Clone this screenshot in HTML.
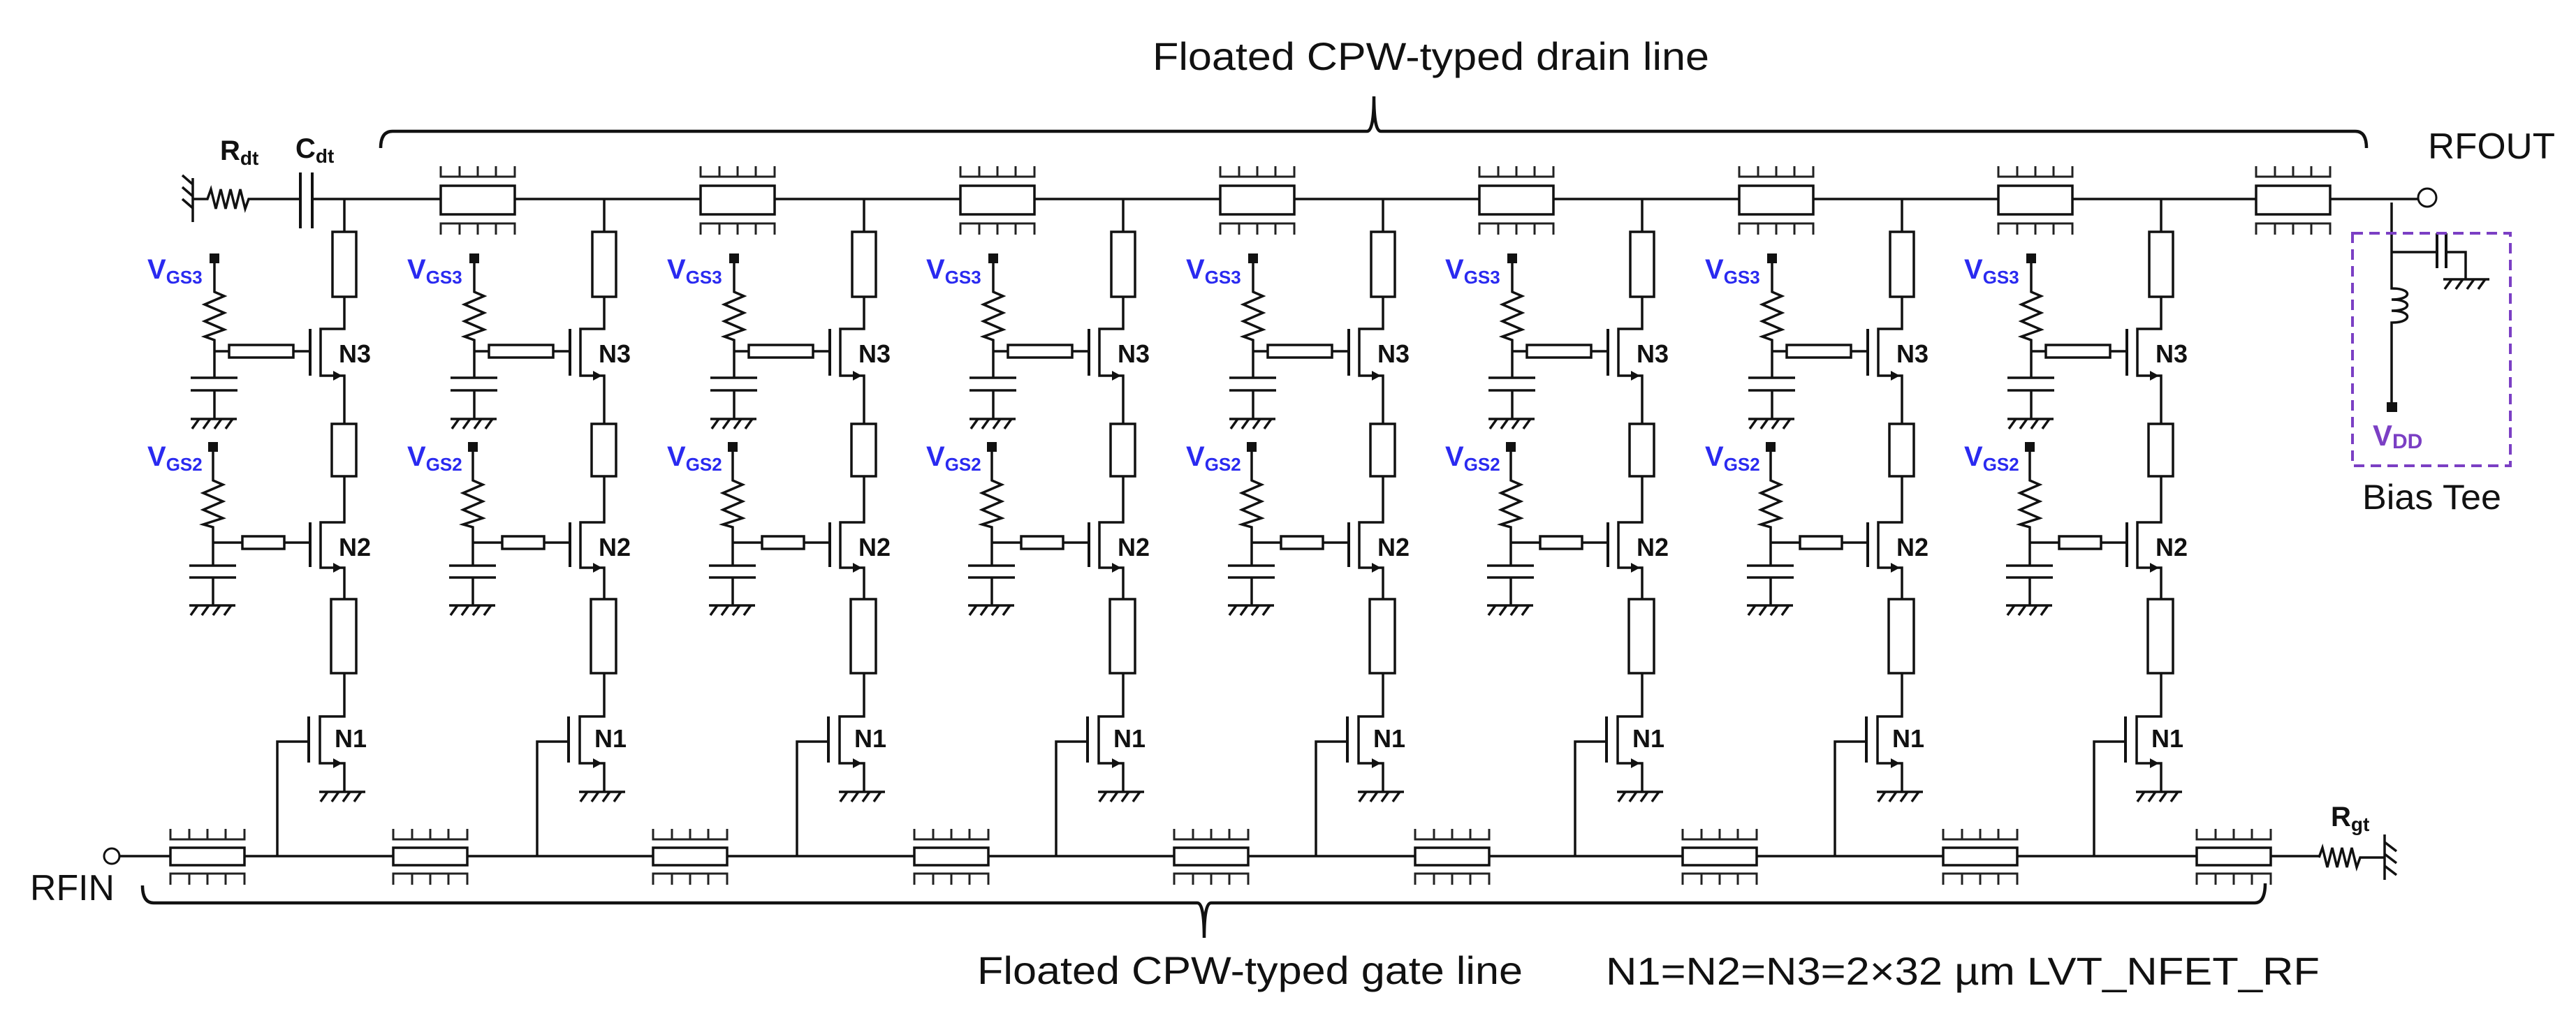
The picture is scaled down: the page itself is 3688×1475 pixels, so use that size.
<!DOCTYPE html>
<html><head><meta charset="utf-8"><style>
html,body{margin:0;padding:0;background:#fff;}
svg{display:block;}
text{font-family:"Liberation Sans",Arial,sans-serif;}
.b{font-weight:bold;}
</style></head><body>
<svg width="3688" height="1475" viewBox="0 0 3688 1475" xmlns="http://www.w3.org/2000/svg">
<defs>
<g id="gnd">
  <line x1="0" y1="0" x2="66" y2="0"/>
  <path d="M12,0 l-10,14 M28,0 l-10,14 M44,0 l-10,14 M60,0 l-10,14"/>
</g>
<g id="stage" fill="none" stroke="#111" stroke-width="3.5">
  <!-- drain to N3 -->
  <line x1="0" y1="285" x2="0" y2="332"/>
  <rect x="-17" y="332" width="34" height="93" fill="#fff"/>
  <polyline points="0,425 0,471 -34,471 -34,538 0,538 0,607"/>
  <line x1="-49" y1="471" x2="-49" y2="538" stroke-width="4"/>
  <polygon points="-3,538 -16,531 -16,545" fill="#111" stroke="none"/>
  <line x1="-49" y1="503" x2="-72" y2="503"/>
  <rect x="-165" y="494" width="92" height="18" fill="#fff"/>
  <line x1="-165" y1="503" x2="-187" y2="503"/>
  <!-- VGS3 bias -->
  <rect x="-193" y="363" width="14" height="14" fill="#111" stroke="none"/>
  <path d="M-186,377 L-186,418 l14,6 l-28,12 l28,12 l-28,12 l28,12 l-28,10 l14,5 L-186,541"/>
  <line x1="-220" y1="541" x2="-153" y2="541"/>
  <line x1="-220" y1="559" x2="-153" y2="559"/>
  <line x1="-186" y1="559" x2="-186" y2="600"/>
  <use href="#gnd" x="-220" y="600"/>
  <!-- N2 -->
  <rect x="-18" y="607" width="35" height="75" fill="#fff"/>
  <polyline points="0,682 0,748 -34,748 -34,813 0,813 0,858"/>
  <line x1="-49" y1="748" x2="-49" y2="812" stroke-width="4"/>
  <polygon points="-3,813 -16,806 -16,820" fill="#111" stroke="none"/>
  <line x1="-49" y1="777" x2="-86" y2="777"/>
  <rect x="-146" y="768" width="60" height="18" fill="#fff"/>
  <line x1="-146" y1="777" x2="-188" y2="777"/>
  <!-- VGS2 bias -->
  <rect x="-195" y="633" width="14" height="14" fill="#111" stroke="none"/>
  <path d="M-188,647 L-188,688 l14,6 l-28,12 l28,12 l-28,12 l28,12 l-28,9 l14,4 L-188,810"/>
  <line x1="-222" y1="810" x2="-155" y2="810"/>
  <line x1="-222" y1="827" x2="-155" y2="827"/>
  <line x1="-188" y1="827" x2="-188" y2="867"/>
  <use href="#gnd" x="-222" y="867"/>
  <!-- N1 -->
  <rect x="-19" y="858" width="36" height="106" fill="#fff"/>
  <polyline points="0,964 0,1026 -35,1026 -35,1093 0,1093 0,1134"/>
  <line x1="-51" y1="1026" x2="-51" y2="1092" stroke-width="4"/>
  <polygon points="-3,1093 -16,1086 -16,1100" fill="#111" stroke="none"/>
  <polyline points="-51,1062 -96,1062 -96,1226"/>
  <use href="#gnd" x="-36" y="1134"/>
</g>
<g id="cpwd" fill="none" stroke="#222" stroke-width="3">
  <path d="M-53,238 L-53,253 L53,253 L53,238 M-26,253 L-26,238 M0,253 L0,238 M26,253 L26,238"/>
  <path d="M-53,336 L-53,320 L53,320 L53,336 M-26,320 L-26,336 M0,320 L0,336 M26,320 L26,336"/>
  <rect x="-53" y="266" width="106" height="41" fill="#fff" stroke="#111" stroke-width="3.5"/>
</g>
<g id="cpwg" fill="none" stroke="#222" stroke-width="3">
  <path d="M-53,1187 L-53,1202 L53,1202 L53,1187 M-26,1202 L-26,1187 M0,1202 L0,1187 M26,1202 L26,1187"/>
  <path d="M-53,1267 L-53,1251 L53,1251 L53,1267 M-26,1251 L-26,1267 M0,1251 L0,1267 M26,1251 L26,1267"/>
  <rect x="-53" y="1214" width="106" height="25" fill="#fff" stroke="#111" stroke-width="3.5"/>
</g>
</defs>

<g stroke="#111" stroke-width="3.5" fill="none">
  <!-- drain line -->
  <line x1="447" y1="285" x2="3462" y2="285"/>
  <!-- gate line -->
  <line x1="171" y1="1226" x2="3320" y2="1226"/>
  <!-- Rdt / Cdt -->
  <line x1="276" y1="255" x2="276" y2="318"/>
  <path d="M276,264 l-15,-13 M276,281 l-15,-13 M276,298 l-15,-13"/>
  <path d="M276,285 L297,285 l5,-14 l7,28 l7,-28 l7,28 l7,-28 l7,28 l7,-28 l7,28 l5,-14 L430,285"/>
  <line x1="430" y1="247" x2="430" y2="327" stroke-width="4"/>
  <line x1="447" y1="247" x2="447" y2="327" stroke-width="4"/>
  <!-- Rgt -->
  <path d="M3320,1228 l5,-14 l7,28 l7,-28 l7,28 l7,-28 l7,28 l7,-28 l7,28 l5,-14 L3414,1228"/>
  <line x1="3414" y1="1195" x2="3414" y2="1260"/>
  <path d="M3414,1206 l17,13 M3414,1223 l17,13 M3414,1240 l17,13"/>
  <!-- RFIN / RFOUT circles -->
  <circle cx="160" cy="1226" r="11" fill="#fff" stroke-width="3"/>
  <circle cx="3475" cy="283" r="13" fill="#fff" stroke-width="3"/>
  <!-- bias tee -->
  <path d="M3424,290 L3424,413 c30,0 30,16 0,16 c30,0 30,16 0,16 c30,0 30,17 0,17 L3424,578"/>
  <line x1="3424" y1="361" x2="3489" y2="361"/>
  <line x1="3489" y1="334" x2="3489" y2="384" stroke-width="4"/>
  <line x1="3502" y1="334" x2="3502" y2="384" stroke-width="4"/>
  <polyline points="3502,361 3530,361 3530,400"/>
  <use href="#gnd" x="3498" y="400"/>
  <!-- braces -->
  <path d="M545,212 Q545,188 562,188 L1957,188 Q1967,188 1967,138 Q1967,188 1977,188 L3372,188 Q3388,188 3388,212" stroke-width="4.5"/>
  <path d="M204,1268 Q204,1293 220,1293 L1714,1293 Q1724,1293 1724,1343 Q1724,1293 1734,1293 L3228,1293 Q3243,1293 3243,1265" stroke-width="4.5"/>
</g>
<rect x="3417" y="576" width="15" height="14" fill="#111"/>
<rect x="3368" y="334" width="226" height="333" fill="none" stroke="#7b3fc4" stroke-width="4" stroke-dasharray="15 9"/>

<!-- stages -->
<use href="#stage" x="493" y="0"/>
<use href="#stage" x="865" y="0"/>
<use href="#stage" x="1237" y="0"/>
<use href="#stage" x="1608" y="0"/>
<use href="#stage" x="1980" y="0"/>
<use href="#stage" x="2351" y="0"/>
<use href="#stage" x="2723" y="0"/>
<use href="#stage" x="3094" y="0"/>

<!-- drain CPW -->
<use href="#cpwd" x="684" y="0"/>
<use href="#cpwd" x="1056" y="0"/>
<use href="#cpwd" x="1428" y="0"/>
<use href="#cpwd" x="1800" y="0"/>
<use href="#cpwd" x="2171" y="0"/>
<use href="#cpwd" x="2543" y="0"/>
<use href="#cpwd" x="2914" y="0"/>
<use href="#cpwd" x="3283" y="0"/>
<!-- gate CPW -->
<use href="#cpwg" x="297" y="0"/>
<use href="#cpwg" x="616" y="0"/>
<use href="#cpwg" x="988" y="0"/>
<use href="#cpwg" x="1362" y="0"/>
<use href="#cpwg" x="1734" y="0"/>
<use href="#cpwg" x="2079" y="0"/>
<use href="#cpwg" x="2462" y="0"/>
<use href="#cpwg" x="2835" y="0"/>
<use href="#cpwg" x="3198" y="0"/>

<!-- big texts -->
<text x="1650" y="100" font-size="56" textLength="797" lengthAdjust="spacingAndGlyphs" fill="#111">Floated CPW-typed drain line</text>
<text x="1399" y="1409" font-size="56" textLength="781" lengthAdjust="spacingAndGlyphs" fill="#111">Floated CPW-typed gate line</text>
<text x="2299" y="1410" font-size="56" textLength="1022" lengthAdjust="spacingAndGlyphs" fill="#111">N1=N2=N3=2×32 µm LVT_NFET_RF</text>
<text x="43" y="1289" font-size="52" textLength="121" lengthAdjust="spacingAndGlyphs" fill="#111">RFIN</text>
<text x="3476" y="227" font-size="52" textLength="182" lengthAdjust="spacingAndGlyphs" fill="#111">RFOUT</text>
<text x="3382" y="729" font-size="50" textLength="199" lengthAdjust="spacingAndGlyphs" fill="#111">Bias Tee</text>
<text x="3397" y="638" font-size="42" class="b" fill="#7b3fc4">V<tspan font-size="30" dy="4">DD</tspan></text>
<text x="315" y="229" font-size="40" class="b" fill="#111">R<tspan font-size="28" dy="7">dt</tspan></text>
<text x="423" y="226" font-size="40" class="b" fill="#111">C<tspan font-size="28" dy="7">dt</tspan></text>
<text x="3337" y="1183" font-size="40" class="b" fill="#111">R<tspan font-size="28" dy="7">gt</tspan></text>

<!-- stage labels -->
<g font-size="36" class="b" fill="#111" font-weight="bold">
<text x="485" y="519">N3</text><text x="485" y="796">N2</text><text x="479" y="1070">N1</text>
<text x="857" y="519">N3</text><text x="857" y="796">N2</text><text x="851" y="1070">N1</text>
<text x="1229" y="519">N3</text><text x="1229" y="796">N2</text><text x="1223" y="1070">N1</text>
<text x="1600" y="519">N3</text><text x="1600" y="796">N2</text><text x="1594" y="1070">N1</text>
<text x="1972" y="519">N3</text><text x="1972" y="796">N2</text><text x="1966" y="1070">N1</text>
<text x="2343" y="519">N3</text><text x="2343" y="796">N2</text><text x="2337" y="1070">N1</text>
<text x="2715" y="519">N3</text><text x="2715" y="796">N2</text><text x="2709" y="1070">N1</text>
<text x="3086" y="519">N3</text><text x="3086" y="796">N2</text><text x="3080" y="1070">N1</text>
</g>
<g font-weight="bold" fill="#2a2af0">
<text x="211" y="399" font-size="40">V<tspan font-size="26" dy="7">GS3</tspan></text><text x="211" y="667" font-size="40">V<tspan font-size="26" dy="7">GS2</tspan></text>
<text x="583" y="399" font-size="40">V<tspan font-size="26" dy="7">GS3</tspan></text><text x="583" y="667" font-size="40">V<tspan font-size="26" dy="7">GS2</tspan></text>
<text x="955" y="399" font-size="40">V<tspan font-size="26" dy="7">GS3</tspan></text><text x="955" y="667" font-size="40">V<tspan font-size="26" dy="7">GS2</tspan></text>
<text x="1326" y="399" font-size="40">V<tspan font-size="26" dy="7">GS3</tspan></text><text x="1326" y="667" font-size="40">V<tspan font-size="26" dy="7">GS2</tspan></text>
<text x="1698" y="399" font-size="40">V<tspan font-size="26" dy="7">GS3</tspan></text><text x="1698" y="667" font-size="40">V<tspan font-size="26" dy="7">GS2</tspan></text>
<text x="2069" y="399" font-size="40">V<tspan font-size="26" dy="7">GS3</tspan></text><text x="2069" y="667" font-size="40">V<tspan font-size="26" dy="7">GS2</tspan></text>
<text x="2441" y="399" font-size="40">V<tspan font-size="26" dy="7">GS3</tspan></text><text x="2441" y="667" font-size="40">V<tspan font-size="26" dy="7">GS2</tspan></text>
<text x="2812" y="399" font-size="40">V<tspan font-size="26" dy="7">GS3</tspan></text><text x="2812" y="667" font-size="40">V<tspan font-size="26" dy="7">GS2</tspan></text>
</g>
</svg>
</body></html>
